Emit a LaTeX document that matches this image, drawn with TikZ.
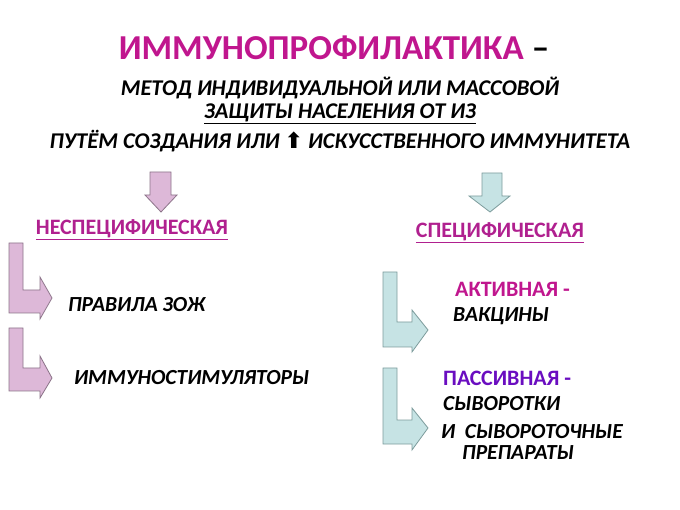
\documentclass[tikz,border=0pt]{standalone}
\usepackage{fontspec}
\setmainfont{Carlito}
\newfontfamily\dejavu{DejaVu Sans}
\begin{document}
\begin{tikzpicture}[x=1pt,y=-1pt,
  pinkarr/.style={fill=pinkfill,draw=pinkline,line width=0.8pt,line join=miter},
  cyanarr/.style={fill=cyanfill,draw=cyanline,line width=0.8pt,line join=miter},
  sub/.style={font=\fontsize{22.5}{24}\selectfont\bfseries\itshape,inner sep=0pt},
  item/.style={font=\fontsize{21.5}{23}\selectfont\bfseries\itshape,inner sep=0pt,anchor=west},
  head/.style={font=\fontsize{22}{24}\selectfont\bfseries,text=headmag,inner sep=0pt}]
\definecolor{pinkfill}{HTML}{DDB8D8}
\definecolor{pinkline}{HTML}{8C7489}
\definecolor{cyanfill}{HTML}{C6E3E4}
\definecolor{cyanline}{HTML}{7D9C9C}
\definecolor{titlemag}{HTML}{C0168E}
\definecolor{headmag}{HTML}{B0208F}
\definecolor{passcol}{HTML}{6A0DC0}
\useasboundingbox (0,0) rectangle (680,510);
\node[inner sep=0pt,font=\fontsize{35}{37}\selectfont\bfseries] (title) at (334,48) {\textcolor{titlemag}{ИММУНОПРОФИЛАКТИКА} –};
\node[sub] (s1) at (340,88) {МЕТОД ИНДИВИДУАЛЬНОЙ ИЛИ МАССОВОЙ};
\node[sub] (s2) at (340,114) {\underline{ЗАЩИТЫ НАСЕЛЕНИЯ ОТ ИЗ}};
\node[sub] (s3) at (340,141) {ПУТЁМ СОЗДАНИЯ ИЛИ {\dejavu\bfseries\upshape\fontsize{22}{24}\selectfont ⬆} ИСКУССТВЕННОГО ИММУНИТЕТА};
% down arrows
\draw[pinkarr] (150,172) -- (171,172) -- (171,195) -- (177,195) -- (161,212) -- (145,195) -- (150,195) -- cycle;
\draw[cyanarr] (482,173) -- (502,173) -- (502,196) -- (510,196) -- (490,212) -- (469,196) -- (482,196) -- cycle;
\node[head] (ns) at (132,230) {\underline{НЕСПЕЦИФИЧЕСКАЯ}};
\node[head] (sp) at (500,233) {\underline{СПЕЦИФИЧЕСКАЯ}};
% bent arrows left
\draw[pinkarr] (9,243) -- (23,243) -- (23,290) -- (40,290) -- (40,277) -- (52,298) -- (40,319) -- (40,313) -- (9,313) -- cycle;
\draw[pinkarr] (9,328) -- (23,328) -- (23,368) -- (40,368) -- (40,356) -- (52,378) -- (40,398) -- (40,391) -- (9,391) -- cycle;
% bent arrows right
\draw[cyanarr] (383,272) -- (397,272) -- (397,322) -- (412,322) -- (412,310) -- (428,330) -- (412,352) -- (412,347) -- (383,347) -- cycle;
\draw[cyanarr] (383,368) -- (397,368) -- (397,420) -- (412,420) -- (412,408) -- (428,428) -- (412,450) -- (412,444) -- (383,444) -- cycle;
\node[item] (zoj) at (68,305) {ПРАВИЛА ЗОЖ};
\node[item] (imst) at (74,378) {ИММУНОСТИМУЛЯТОРЫ};
\node[head,anchor=west,text=titlemag] (akt) at (455,289) {АКТИВНАЯ -};
\node[item] (vak) at (453,316) {ВАКЦИНЫ};
\node[head,anchor=west,text=passcol] (pas) at (443,378) {ПАССИВНАЯ -};
\node[item] (syv) at (443,404) {СЫВОРОТКИ};
\node[item] (syv2) at (441,432) {И\ \ СЫВОРОТОЧНЫЕ};
\node[item] (prep) at (462,453) {ПРЕПАРАТЫ};
\end{tikzpicture}
\end{document}
